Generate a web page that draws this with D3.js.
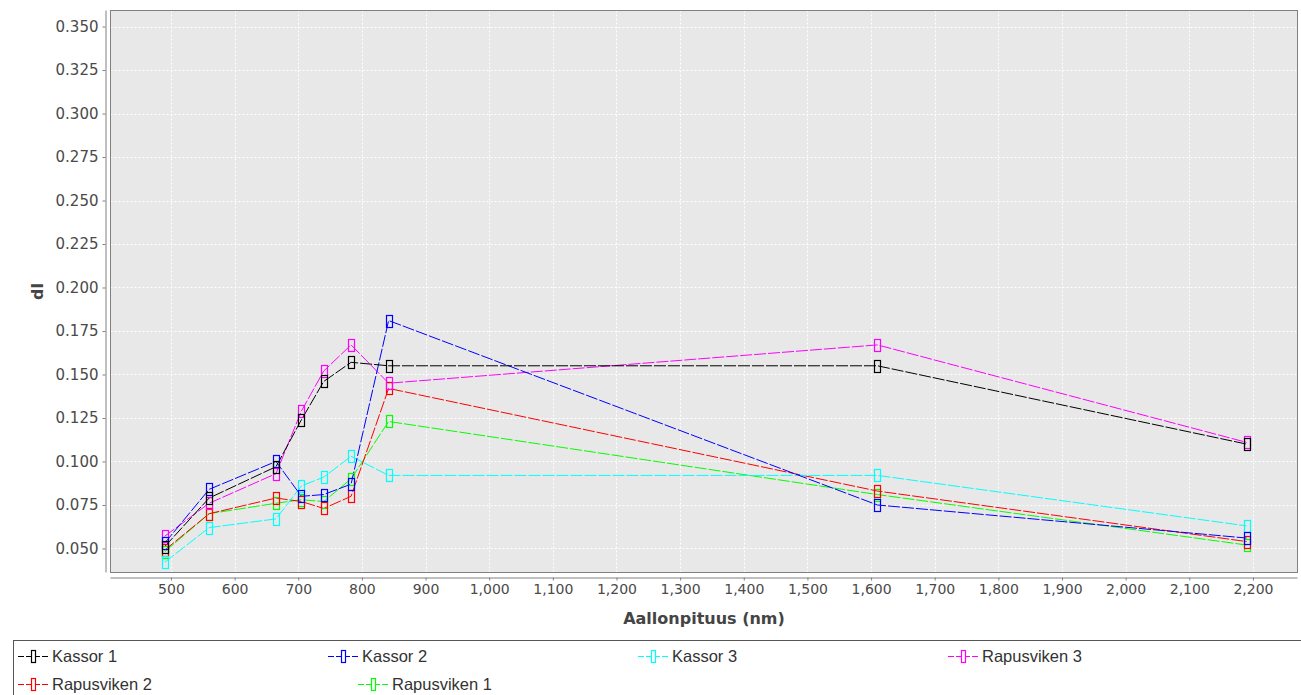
<!DOCTYPE html>
<html>
<head>
<meta charset="utf-8">
<script src="https://cdn.jsdelivr.net/npm/d3@7"></script>
<style>
  html, body { margin: 0; padding: 0; background: #ffffff; }
  svg { display: block; }
</style>
</head>
<body>
<svg id="chart" width="1301" height="695"></svg>
<script>
// Sentinel-2 band centre wavelengths (nm)
const wavelengths = [490, 560, 665, 705, 740, 783, 842, 1610, 2190];

// dl values per site
const kassor1     = [0.051, 0.079, 0.097, 0.124, 0.146, 0.157, 0.155, 0.155, 0.110];
const kassor2     = [0.053, 0.084, 0.100, 0.080, 0.081, 0.087, 0.181, 0.075, 0.056];
const kassor3     = [0.042, 0.062, 0.067, 0.086, 0.091, 0.103, 0.092, 0.092, 0.063];
const rapusviken3 = [0.057, 0.076, 0.093, 0.129, 0.152, 0.167, 0.145, 0.167, 0.111];
const rapusviken2 = [0.049, 0.070, 0.079, 0.077, 0.073, 0.080, 0.142, 0.083, 0.054];
const rapusviken1 = [0.048, 0.070, 0.076, 0.078, 0.077, 0.090, 0.123, 0.081, 0.052];

const seriesNames  = ["Kassor 1", "Kassor 2", "Kassor 3", "Rapusviken 3", "Rapusviken 2", "Rapusviken 1"];
const seriesValues = [kassor1, kassor2, kassor3, rapusviken3, rapusviken2, rapusviken1];
const seriesColors = ["#000000", "#0000ff", "#00ffff", "#ff00ff", "#ff0000", "#00ff00"];

const xTicks = [500, 600, 700, 800, 900, 1000, 1100, 1200, 1300, 1400, 1500, 1600, 1700, 1800, 1900, 2000, 2100, 2200];
const yTicks = [0.050, 0.075, 0.100, 0.125, 0.150, 0.175, 0.200, 0.225, 0.250, 0.275, 0.300, 0.325, 0.350];

const xTitle = "Aallonpituus (nm)";
const yTitle = "dl";

// Layout
const plot = { left: 110.5, right: 1297.5, top: 10.5, bottom: 572.5 };
const svg = d3.select("#chart");

const x = d3.scaleLinear().domain([405, 2270]).range([plot.left, plot.right]);
const y = d3.scaleLinear().domain([0.0362, 0.3592]).range([plot.bottom, plot.top]);

// Plot background
svg.append("rect")
  .attr("x", plot.left).attr("y", plot.top)
  .attr("width", plot.right - plot.left).attr("height", plot.bottom - plot.top)
  .attr("fill", "#e8e8e8");

// Gridlines
const grid = svg.append("g").attr("stroke", "#ffffff").attr("stroke-width", 1).attr("stroke-dasharray", "2,2");
grid.selectAll("line.gx").data(xTicks).join("line")
  .attr("class", "gx")
  .attr("x1", d => Math.round(x(d)) + 0.5).attr("x2", d => Math.round(x(d)) + 0.5)
  .attr("y1", plot.top).attr("y2", plot.bottom);
grid.selectAll("line.gy").data(yTicks).join("line")
  .attr("class", "gy")
  .attr("y1", d => Math.round(y(d)) + 0.5).attr("y2", d => Math.round(y(d)) + 0.5)
  .attr("x1", plot.left).attr("x2", plot.right);

// Plot outline
svg.append("rect")
  .attr("x", plot.left).attr("y", plot.top)
  .attr("width", plot.right - plot.left).attr("height", plot.bottom - plot.top)
  .attr("fill", "none").attr("stroke", "#808080").attr("stroke-width", 1);

// Axes (offset from the plot area)
const tickFont = "'DejaVu Sans', sans-serif";
const yAxisG = svg.append("g").attr("transform", `translate(${plot.left - 5},0)`)
  .call(d3.axisLeft(y).tickValues(yTicks).tickFormat(d3.format(".3f")).tickSizeInner(3).tickSizeOuter(0).tickPadding(4));
const xAxisG = svg.append("g").attr("transform", `translate(0,${plot.bottom + 5})`)
  .call(d3.axisBottom(x).tickValues(xTicks).tickFormat(d3.format(",")).tickSizeInner(3).tickSizeOuter(0).tickPadding(4));

[yAxisG, xAxisG].forEach(g => {
  g.select(".domain").attr("stroke", "#808080");
  g.selectAll(".tick line").attr("stroke", "#808080");
  g.selectAll(".tick text").attr("fill", "#4a4a4a").style("font-family", tickFont);
});
yAxisG.selectAll(".tick text").style("font-size", "15px");
xAxisG.selectAll(".tick text").style("font-size", "14px");
yAxisG.select(".domain").attr("d", `M0.5,${plot.top}V${plot.bottom}`);
xAxisG.select(".domain").attr("d", `M${plot.left},0.5H${plot.right}`);

// Axis titles
svg.append("text")
  .attr("transform", `translate(43,${(plot.top + plot.bottom) / 2}) rotate(-90)`)
  .attr("text-anchor", "middle")
  .attr("fill", "#444444")
  .style("font-family", "'DejaVu Sans', sans-serif")
  .style("font-weight", "bold").style("font-size", "16px")
  .text(yTitle);
svg.append("text")
  .attr("x", 704).attr("y", 624)
  .attr("text-anchor", "middle")
  .attr("fill", "#444444")
  .style("font-family", "'DejaVu Sans', sans-serif")
  .style("font-weight", "bold").style("font-size", "16px")
  .text(xTitle);

// Series: lines first, then markers; the first series ends up on top
const series = seriesNames.map((name, i) => ({
  name, color: seriesColors[i],
  points: wavelengths.map((w, j) => ({ w, v: seriesValues[i][j] }))
}));
const drawOrder = series.slice().reverse();

const line = d3.line().x(d => x(d.w)).y(d => y(d.v));
svg.append("clipPath").attr("id", "plotClip")
  .append("rect").attr("x", plot.left).attr("y", plot.top)
  .attr("width", plot.right - plot.left).attr("height", plot.bottom - plot.top);

const marks = svg.append("g").attr("clip-path", "url(#plotClip)");
marks.selectAll("path.series").data(drawOrder).join("path")
  .attr("class", "series")
  .attr("d", d => line(d.points))
  .attr("fill", "none")
  .attr("stroke", d => d.color)
  .attr("stroke-width", 1)
  .attr("stroke-dasharray", "12,2");

const mw = 6, mh = 12;
drawOrder.forEach(s => {
  marks.append("g").selectAll("rect").data(s.points).join("rect")
    .attr("x", d => Math.round(x(d.w)) - mw / 2 + 0.5)
    .attr("y", d => Math.round(y(d.v)) - mh / 2 + 0.5)
    .attr("width", mw).attr("height", mh)
    .attr("fill", "none")
    .attr("stroke", s.color)
    .attr("stroke-width", 1.2);
});

// Legend
const legendBox = { x: 13.5, y: 640.5, w: 1300, h: 60 };
svg.append("rect")
  .attr("x", legendBox.x).attr("y", legendBox.y)
  .attr("width", legendBox.w).attr("height", legendBox.h)
  .attr("fill", "#ffffff").attr("stroke", "#555555").attr("stroke-width", 1);

const legendPos = [
  { x: 18, y: 656 }, { x: 328, y: 656 }, { x: 638, y: 656 }, { x: 948, y: 656 },
  { x: 18, y: 684 }, { x: 358, y: 684 }
];
const legendG = svg.append("g");
series.forEach((s, i) => {
  const p = legendPos[i];
  const g = legendG.append("g").attr("transform", `translate(${p.x},${p.y})`);
  g.append("line").attr("x1", 0).attr("x2", 31).attr("y1", 0.5).attr("y2", 0.5)
    .attr("stroke", s.color).attr("stroke-width", 1).attr("stroke-dasharray", "6,2");
  g.append("rect").attr("x", 13.5).attr("y", -5.5).attr("width", 4).attr("height", 12)
    .attr("fill", "#ffffff").attr("stroke", s.color).attr("stroke-width", 1.2);
  g.append("text").attr("x", 34).attr("y", 0).attr("dy", "0.36em")
    .attr("fill", "#333333")
    .style("font-family", "'Liberation Sans', Arial, sans-serif").style("font-size", "16.5px")
    .text(s.name);
});
</script>
</body>
</html>
